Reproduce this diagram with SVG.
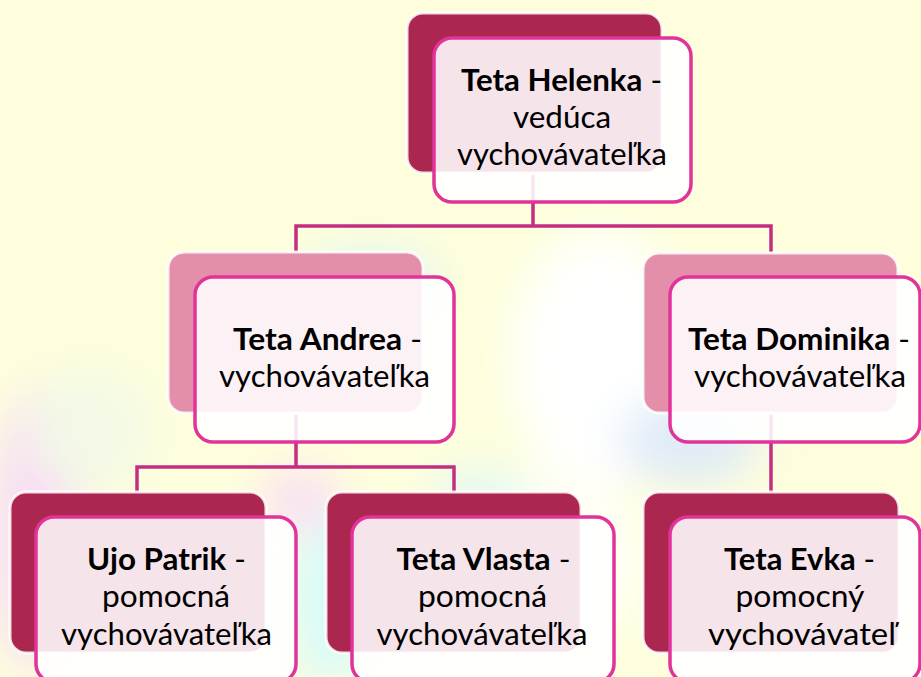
<svg xmlns="http://www.w3.org/2000/svg" width="921" height="677" viewBox="0 0 921 677">
  <defs>
    <filter id="blur" x="-50%" y="-50%" width="200%" height="200%">
      <feGaussianBlur stdDeviation="22"/>
    </filter>
    <style>
      .back-dark { fill: #AB2750; stroke: #FFFFFF; stroke-opacity: 0.85; stroke-width: 3; }
      .back-light { fill: #E48FAA; stroke: #FFFFFF; stroke-opacity: 0.85; stroke-width: 3; }
      .front { fill: #FFFFFF; fill-opacity: 0.88; stroke: #E2339A; stroke-width: 3.5; }
      .conn { fill: none; stroke: #C42E82; stroke-width: 3.5; }
      .lbl { font-family: Lato, "Open Sans", "Liberation Sans", sans-serif; font-size: 31px; fill: #000000; text-anchor: middle; }
      .b { font-weight: bold; }
    </style>
  </defs>

  <!-- background -->
  <rect x="0" y="0" width="921" height="677" fill="#FEFEDC"/>
  <g filter="url(#blur)">
    <ellipse cx="600" cy="360" rx="90" ry="130" fill="#FFFFFF"/>
    <ellipse cx="560" cy="560" rx="90" ry="90" fill="#FFFFF4"/>
    <ellipse cx="370" cy="285" rx="70" ry="35" fill="#DDF6F0"/>
    <ellipse cx="35" cy="530" rx="45" ry="140" fill="#F7DDF5"/>
    <ellipse cx="90" cy="430" rx="60" ry="60" fill="#F2F9E6"/>
    <ellipse cx="330" cy="600" rx="40" ry="90" fill="#D8FAFA"/>
    <ellipse cx="300" cy="500" rx="40" ry="30" fill="#FADDF5"/>
    <ellipse cx="690" cy="440" rx="70" ry="45" fill="#DFEBF8"/>
    <ellipse cx="480" cy="500" rx="50" ry="30" fill="#E2F8F5"/>
  </g>

  <!-- connectors -->
  <g id="connectors">
    <path class="conn" d="M533,175 V226 M296,252 V226 H771 V252"/>
    <path class="conn" d="M296,415 V467 M137,492 V467 H454 V492"/>
    <path class="conn" d="M771,415 V492"/>
  </g>

  <g id="node-helenka">
    <rect class="back-dark" x="407" y="13" width="255" height="160" rx="16"/>
    <rect class="front" x="434" y="38" width="257" height="164" rx="18"/>
    <text class="lbl" x="561.5" y="91" textLength="201" lengthAdjust="spacingAndGlyphs"><tspan class="b">Teta Helenka</tspan> -</text>
    <text class="lbl" x="562" y="128" textLength="98" lengthAdjust="spacingAndGlyphs">vedúca</text>
    <text class="lbl" x="562" y="165" textLength="210" lengthAdjust="spacingAndGlyphs">vychovávateľka</text>
  </g>

  <g id="node-andrea">
    <rect class="back-light" x="168" y="252" width="255" height="161" rx="16"/>
    <rect class="front" x="195" y="277" width="259" height="165" rx="18"/>
    <text class="lbl" x="327.5" y="350" textLength="189" lengthAdjust="spacingAndGlyphs"><tspan class="b">Teta Andrea</tspan> -</text>
    <text class="lbl" x="324.5" y="387" textLength="211" lengthAdjust="spacingAndGlyphs">vychovávateľka</text>
  </g>

  <g id="node-dominika">
    <rect class="back-light" x="643" y="253" width="255" height="160" rx="16"/>
    <rect class="front" x="670" y="277" width="250" height="165" rx="18"/>
    <text class="lbl" x="799" y="350" textLength="222" lengthAdjust="spacingAndGlyphs"><tspan class="b">Teta Dominika</tspan> -</text>
    <text class="lbl" x="800" y="387" textLength="212" lengthAdjust="spacingAndGlyphs">vychovávateľka</text>
  </g>

  <g id="node-patrik">
    <rect class="back-dark" x="10" y="492" width="256" height="161" rx="16"/>
    <rect class="front" x="36" y="517" width="260" height="165" rx="18"/>
    <text class="lbl" x="166.5" y="570" textLength="159" lengthAdjust="spacingAndGlyphs"><tspan class="b">Ujo Patrik</tspan> -</text>
    <text class="lbl" x="166" y="607" textLength="128" lengthAdjust="spacingAndGlyphs">pomocná</text>
    <text class="lbl" x="166.5" y="645" textLength="211" lengthAdjust="spacingAndGlyphs">vychovávateľka</text>
  </g>

  <g id="node-vlasta">
    <rect class="back-dark" x="326" y="492" width="255" height="161" rx="16"/>
    <rect class="front" x="352" y="517" width="262" height="165" rx="18"/>
    <text class="lbl" x="483.5" y="570" textLength="174" lengthAdjust="spacingAndGlyphs"><tspan class="b">Teta Vlasta</tspan> -</text>
    <text class="lbl" x="482.5" y="607" textLength="129" lengthAdjust="spacingAndGlyphs">pomocná</text>
    <text class="lbl" x="482" y="645" textLength="211" lengthAdjust="spacingAndGlyphs">vychovávateľka</text>
  </g>

  <g id="node-evka">
    <rect class="back-dark" x="643" y="492" width="256" height="161" rx="16"/>
    <rect class="front" x="670" y="517" width="250" height="165" rx="18"/>
    <text class="lbl" x="799.5" y="570" textLength="151" lengthAdjust="spacingAndGlyphs"><tspan class="b">Teta Evka</tspan> -</text>
    <text class="lbl" x="800" y="607" textLength="129" lengthAdjust="spacingAndGlyphs">pomocný</text>
    <text class="lbl" x="802" y="645" textLength="188" lengthAdjust="spacingAndGlyphs">vychovávateľ</text>
  </g>
</svg>
